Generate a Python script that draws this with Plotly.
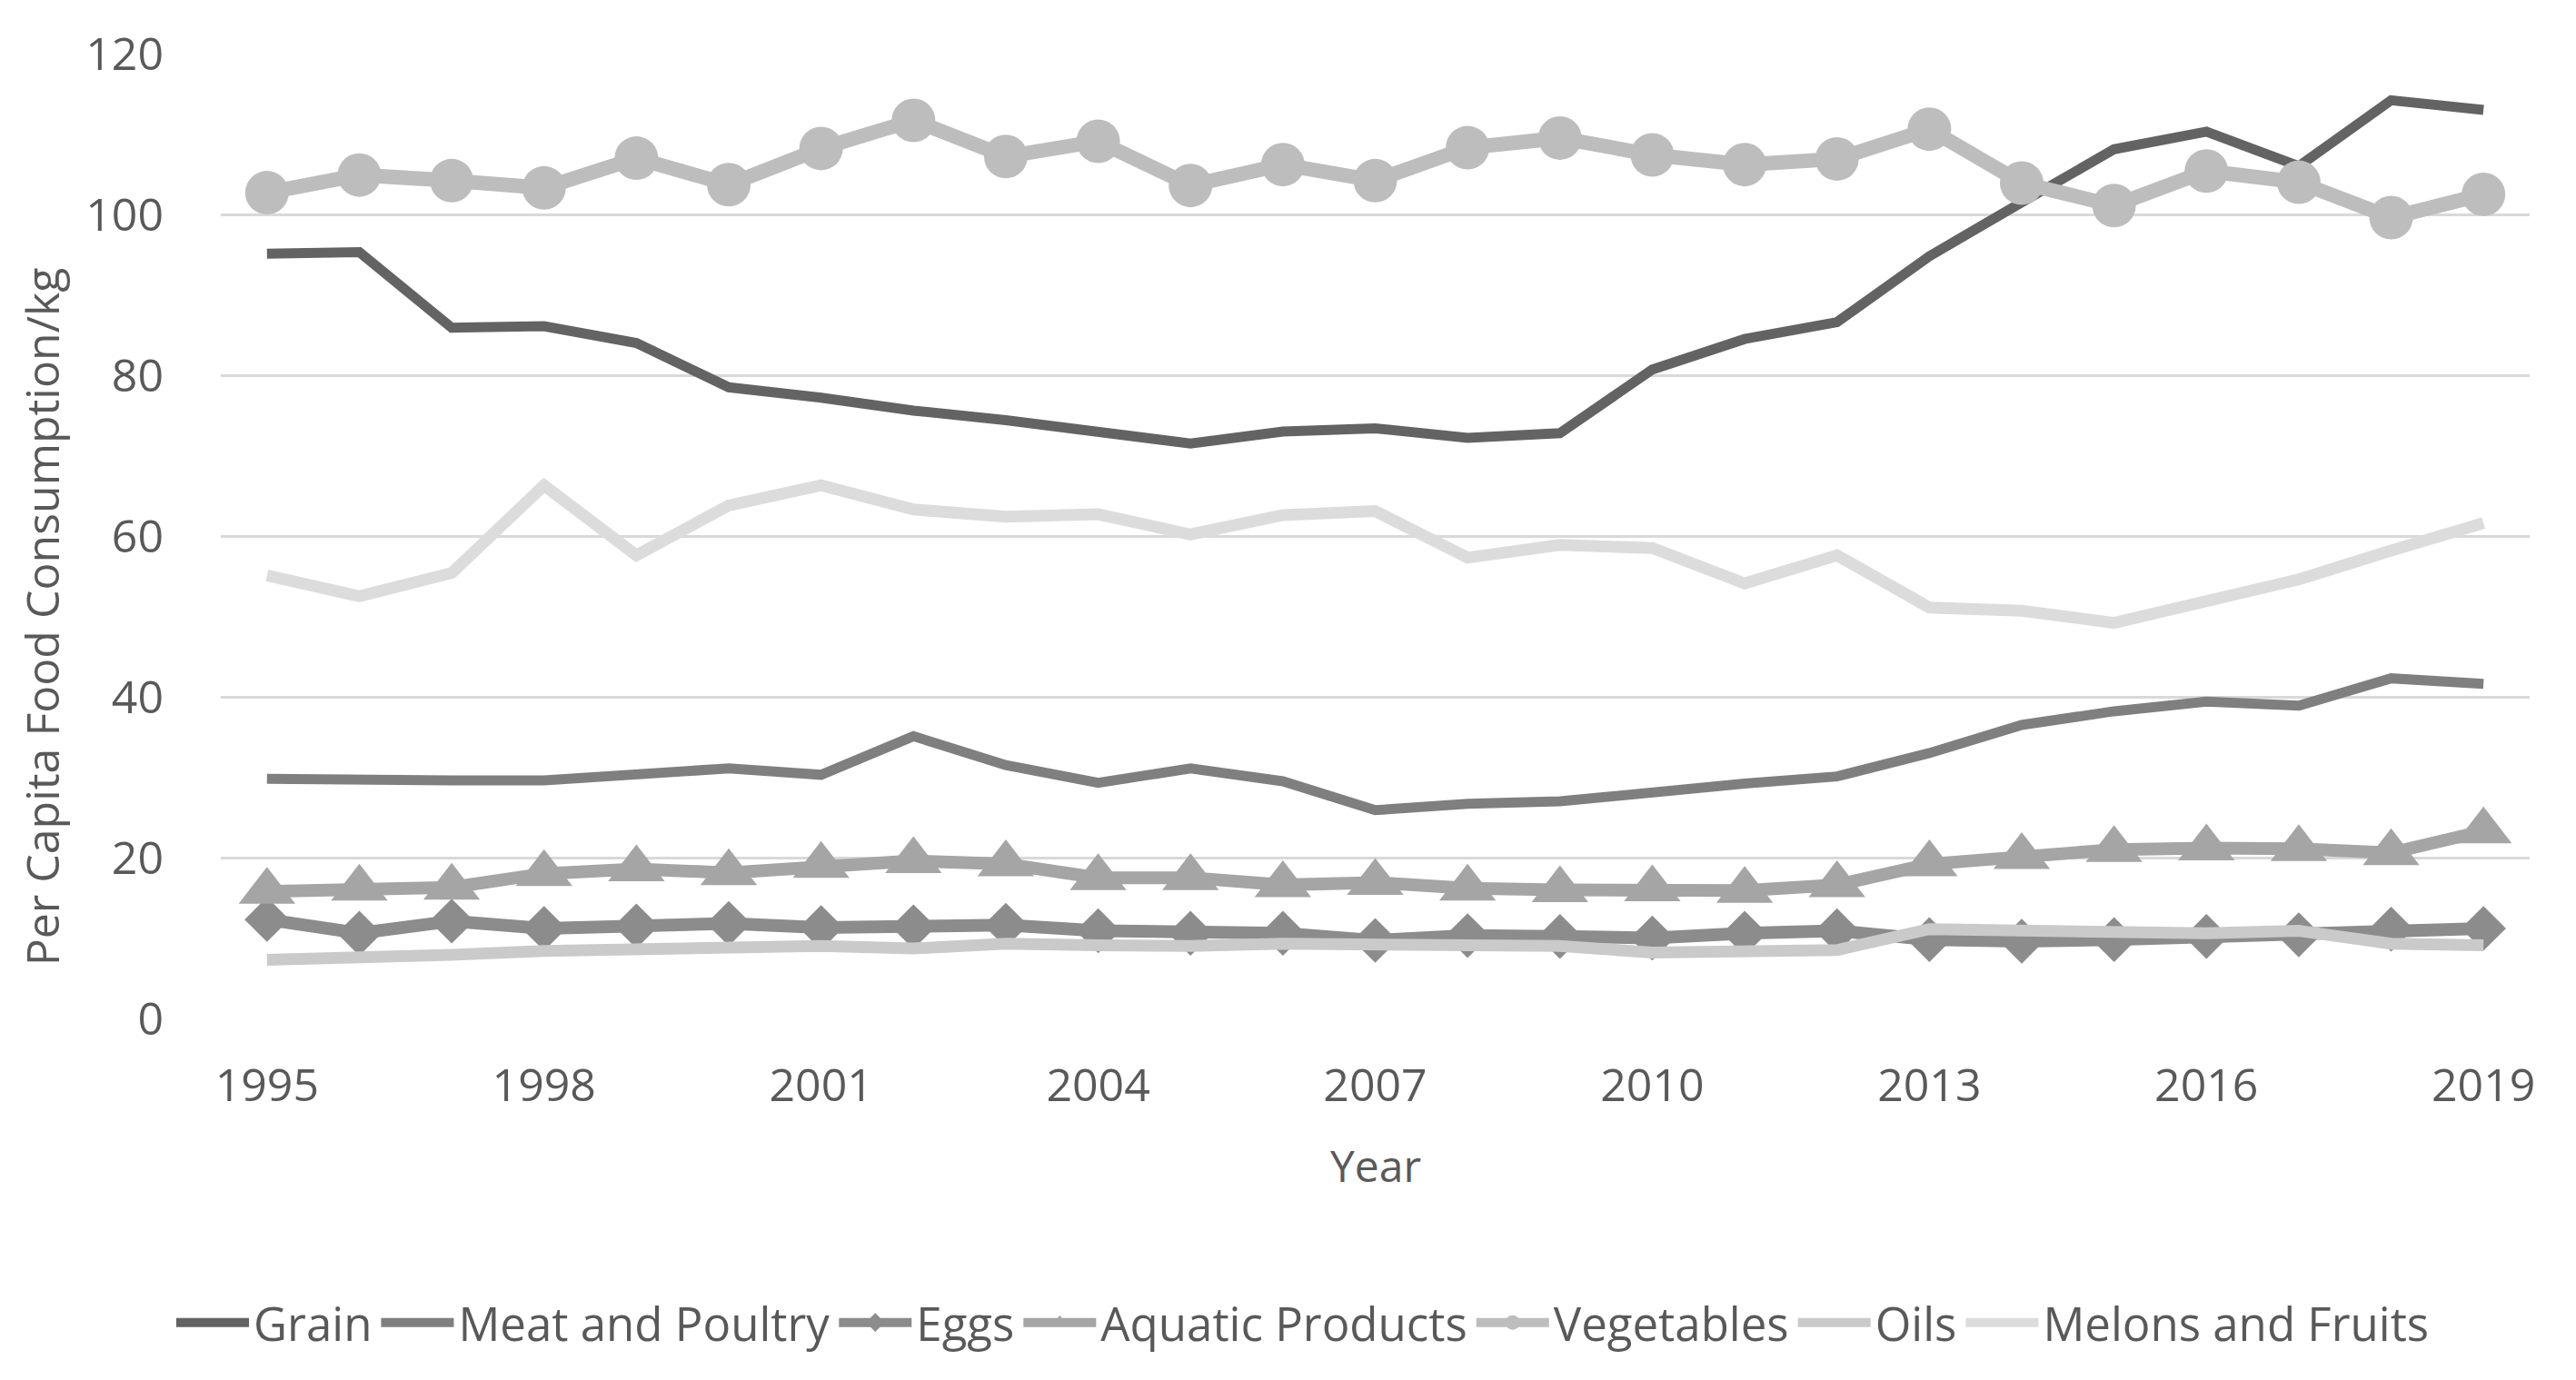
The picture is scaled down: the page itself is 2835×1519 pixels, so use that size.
import plotly.graph_objects as go

years = list(range(1995, 2020))
grain = [95.1, 95.3, 85.9, 86.1, 84.0, 78.5, 77.2, 75.6, 74.4, 72.8, 71.5, 73.0, 73.4, 72.2, 72.8,
         80.7, 84.5, 86.6, 94.8, 101.5, 108.1, 110.3, 106.0, 114.2, 113.0]
meat = [29.8, 29.6, 29.6, 29.6, 30.5, 31.1, 30.3, 35.1, 31.5, 29.3, 31.1, 29.5, 25.9, 26.7, 27.0,
        28.2, 29.2, 30.1, 33.0, 36.5, 38.2, 39.4, 38.9, 42.3, 41.6]
eggs = [12.3, 10.6, 12.1, 11.2, 11.5, 11.8, 11.3, 11.4, 11.6, 10.9, 10.6, 10.6, 9.7, 10.3, 10.2,
        10.0, 10.6, 10.9, 9.8, 9.6, 9.8, 10.2, 10.4, 11.1, 11.2]
aquatic = [15.8, 16.2, 16.3, 18.0, 18.6, 18.1, 19.0, 19.6, 19.2, 17.5, 17.5, 16.6, 16.9, 16.2, 16.0,
           16.1, 15.9, 16.6, 19.2, 20.1, 21.0, 21.2, 21.1, 20.6, 23.3]
vegetables = [102.7, 104.9, 104.2, 103.3, 107.0, 103.7, 108.2, 111.7, 107.2, 109.1, 103.6, 106.2, 104.2,
              108.3, 109.5, 107.4, 106.2, 106.9, 110.6, 103.9, 101.1, 105.4, 104.0, 99.6, 102.5]
oils = [7.3, 7.5, 7.9, 8.4, 8.7, 9.0, 9.0, 8.7, 9.3, 9.1, 9.0, 9.3, 9.3, 9.2, 9.0,
        8.2, 8.5, 8.5, 11.1, 10.9, 10.6, 10.6, 10.9, 9.3, 9.1]
melons = [55.1, 52.5, 55.4, 66.3, 57.6, 63.8, 66.3, 63.3, 62.4, 62.7, 60.2, 62.6, 63.1, 57.3, 58.9,
          58.5, 54.1, 57.6, 51.1, 50.7, 49.2, 52.0, 54.6, 58.2, 61.6]
x_ticks = [1995, 1998, 2001, 2004, 2007, 2010, 2013, 2016, 2019]
y_ticks = [0, 20, 40, 60, 80, 100, 120]

FONT = "Open Sans"
TXT = "#595959"

series = [
    ("Grain", grain, "#636363", 11, None, 0),
    ("Meat and Poultry", meat, "#7f7f7f", 11, None, 0),
    ("Eggs", eggs, "#8c8c8c", 14, "diamond", 38),
    ("Aquatic Products", aquatic, "#a5a5a5", 14, "triangle-up", 54),
    ("Vegetables", vegetables, "#bdbdbd", 16, "circle", 48),
    ("Oils", oils, "#cacaca", 13, None, 0),
    ("Melons and Fruits", melons, "#dcdcdc", 13, None, 0),
]

fig = go.Figure()
for name, vals, col, lw, sym, ms in series:
    if sym:
        fig.add_trace(go.Scatter(x=years, y=vals, name=name, mode="lines+markers",
                                 line=dict(color=col, width=lw),
                                 marker=dict(symbol=sym, size=ms, color=col)))
    else:
        fig.add_trace(go.Scatter(x=years, y=vals, name=name, mode="lines",
                                 line=dict(color=col, width=lw)))

fig.update_layout(
    width=2835, height=1519,
    margin=dict(l=235, r=59, t=51, b=406),
    paper_bgcolor="white", plot_bgcolor="white",
    font=dict(family=FONT, size=50, color=TXT),
    showlegend=True,
    legend=dict(orientation="h", xref="container", yref="container",
                x=0.503, xanchor="center", y=(1519 - 1448) / 1519, yanchor="middle",
                font=dict(size=51, color=TXT), itemwidth=80, tracegroupgap=0),
    xaxis=dict(range=[1994.5, 2019.5], tickmode="array", tickvals=x_ticks,
               ticktext=[str(v) for v in x_ticks], showgrid=False, zeroline=False,
               showline=False, ticks="", ticklabelstandoff=40, automargin=False,
               tickfont=dict(size=50, color=TXT)),
    yaxis=dict(range=[0, 120], tickmode="array", tickvals=y_ticks,
               ticktext=[str(v) for v in y_ticks], showgrid=True, gridcolor="#d9d9d9",
               gridwidth=3, zeroline=False, showline=False, ticks="",
               ticklabelstandoff=62, automargin=False, tickfont=dict(size=50, color=TXT)),
    annotations=[
        dict(text="Per Capita Food Consumption/kg", xref="paper", yref="paper",
             x=-0.0775, y=0.416, textangle=-90, showarrow=False,
             xanchor="center", yanchor="middle", font=dict(size=50, color=TXT)),
        dict(text="Year", xref="paper", yref="paper", x=0.5, y=-0.1525,
             showarrow=False, xanchor="center", yanchor="middle",
             font=dict(size=48, color=TXT)),
    ],
)

fig.write_html("out.html")
